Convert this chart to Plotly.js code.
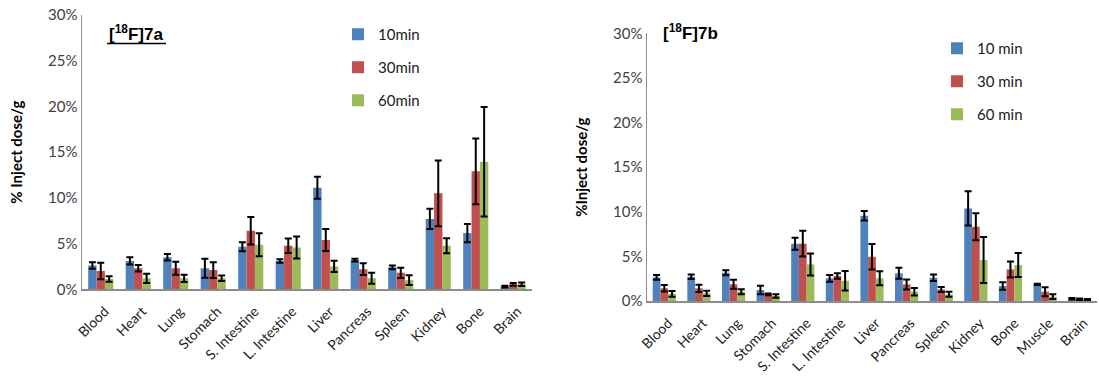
<!DOCTYPE html>
<html>
<head>
<meta charset="utf-8">
<script src="https://cdn.plot.ly/plotly-3.0.1.min.js"></script>
<style>html,body{margin:0;padding:0;background:#fff;}#chart{width:1099px;height:384px;}</style>
</head>
<body>
<div id="chart"></div>
<script>
// ---- Data: [18F]7a ----
const categoriesA = ['Blood','Heart','Lung','Stomach','S. Intestine','L. Intestine','Liver','Pancreas','Spleen','Kidney','Bone','Brain'];
const a10 = [2.6, 3.1, 3.5, 2.3, 4.65, 3.1, 11.1, 3.2, 2.4, 7.7, 6.15, 0.3];
const a10err = [0.35, 0.4, 0.35, 1.05, 0.5, 0.2, 1.2, 0.15, 0.2, 1.1, 1.0, 0.1];
const a30 = [2.0, 2.3, 2.3, 2.1, 6.4, 4.76, 5.4, 2.2, 1.8, 10.5, 12.9, 0.55];
const a30err = [0.9, 0.35, 0.7, 0.87, 1.5, 0.8, 1.2, 0.64, 0.57, 3.6, 3.6, 0.15];
const a60 = [1.13, 1.2, 1.2, 1.2, 4.87, 4.57, 2.5, 1.2, 1.0, 4.76, 13.95, 0.55];
const a60err = [0.3, 0.5, 0.4, 0.3, 1.26, 1.2, 0.62, 0.6, 0.53, 0.82, 6.0, 0.2];
const legendA = ['10min', '30min', '60min'];

// ---- Data: [18F]7b ----
const categoriesB = ['Blood','Heart','Lung','Stomach','S. Intestine','L. Intestine','Liver','Pancreas','Spleen','Kidney','Bone','Muscle','Brain'];
const b10 = [2.65, 2.72, 3.17, 1.23, 6.42, 2.54, 9.55, 3.1, 2.6, 10.38, 1.68, 1.86, 0.25];
const b10err = [0.27, 0.25, 0.28, 0.47, 0.67, 0.37, 0.54, 0.62, 0.37, 1.92, 0.41, 0.07, 0.08];
const b30 = [1.42, 1.42, 1.87, 0.75, 6.42, 2.8, 4.96, 1.86, 1.3, 8.32, 3.54, 1.04, 0.2];
const b30err = [0.36, 0.4, 0.5, 0.1, 1.44, 0.3, 1.42, 0.56, 0.28, 1.5, 0.9, 0.5, 0.08];
const b60 = [0.8, 0.86, 1.04, 0.56, 4.1, 2.27, 2.54, 1.04, 0.75, 4.59, 4.03, 0.49, 0.15];
const b60err = [0.33, 0.3, 0.28, 0.19, 1.23, 1.08, 0.78, 0.43, 0.28, 2.58, 1.34, 0.26, 0.08];
const legendB = ['10 min', '30 min', '60 min'];

const yTicks = [0, 5, 10, 15, 20, 25, 30];
const yTickText = ['0%', '5%', '10%', '15%', '20%', '25%', '30%'];
const colors = ['#4F81BD', '#C0504D', '#9BBB59'];

function bar(x, y, err, name, color, xa, ya, leg, grp) {
  return {
    type: 'bar', x: x, y: y, name: name,
    marker: {color: color},
    error_y: {type: 'data', array: err, visible: true, color: '#000', thickness: 2, width: 3.5},
    xaxis: xa, yaxis: ya, legend: leg, legendgroup: grp,
    hoverinfo: 'x+y+name'
  };
}

const traces = [
  bar(categoriesA, a10, a10err, legendA[0], colors[0], 'x', 'y', 'legend', 'a1'),
  bar(categoriesA, a30, a30err, legendA[1], colors[1], 'x', 'y', 'legend', 'a2'),
  bar(categoriesA, a60, a60err, legendA[2], colors[2], 'x', 'y', 'legend', 'a3'),
  bar(categoriesB, b10, b10err, legendB[0], colors[0], 'x2', 'y2', 'legend2', 'b1'),
  bar(categoriesB, b30, b30err, legendB[1], colors[1], 'x2', 'y2', 'legend2', 'b2'),
  bar(categoriesB, b60, b60err, legendB[2], colors[2], 'x2', 'y2', 'legend2', 'b3')
];

const W = 1099, H = 384;
const FF = 'Lato, "Open Sans", sans-serif';
const axLine = '#8c8c8c';

function xAxis(dom, anchor, n) {
  return {type: 'category', domain: dom, anchor: anchor, range: [-0.5, n - 0.5],
    showline: true, linecolor: axLine, linewidth: 1.5,
    showgrid: false, zeroline: false, ticks: '', tickangle: -45,
    ticklabelstandoff: 7, ticklabelshift: 4,
    tickfont: {family: FF, size: 14, color: '#202020'},
    automargin: false, fixedrange: true};
}
function yAxis(dom, anchor, title) {
  return {type: 'linear', domain: dom, anchor: anchor, range: [0, 30],
    tickmode: 'array', tickvals: yTicks, ticktext: yTickText,
    showline: true, linecolor: axLine, linewidth: 1.5, showgrid: false, zeroline: false,
    ticks: '', tickfont: {family: FF, size: 15, color: '#404040'}, automargin: false, fixedrange: true,
    title: {text: title, font: {family: FF, size: 15, color: '#000', weight: 'bold'}, standoff: 22}};
}

const layout = {
  width: W, height: H,
  margin: {l: 0, r: 0, t: 0, b: 0},
  paper_bgcolor: '#fff', plot_bgcolor: '#fff',
  barmode: 'group', bargap: 0.33, bargroupgap: 0,
  xaxis: xAxis([82 / W, 532 / W], 'y', categoriesA.length),
  yaxis: yAxis([1 - 289.3 / H, 1 - 15 / H], 'x', '% Inject dose/g'),
  xaxis2: xAxis([647 / W, 1097 / W], 'y2', categoriesB.length),
  yaxis2: yAxis([1 - 301 / H, 1 - 33.3 / H], 'x2', '%Inject dose/g'),
  showlegend: true,
  legend: {x: 338 / W, y: 1 - 18 / H, xanchor: 'left', yanchor: 'top', bgcolor: 'rgba(0,0,0,0)',
    traceorder: 'grouped', tracegroupgap: 10.5,
    font: {family: FF, size: 15, color: '#202020'}},
  legend2: {x: 937 / W, y: 1 - 32 / H, xanchor: 'left', yanchor: 'top', bgcolor: 'rgba(0,0,0,0)',
    traceorder: 'grouped', tracegroupgap: 10.5,
    font: {family: FF, size: 15, color: '#202020'}},
  shapes: [
    {type: 'line', xref: 'paper', yref: 'paper', x0: 107 / W, x1: 166 / W, y0: 1 - 43.5 / H, y1: 1 - 43.5 / H,
     line: {color: '#000', width: 1.5}}
  ],
  annotations: [
    {text: '[<sup>18</sup>F]7a', xref: 'paper', yref: 'paper', x: 107 / W, y: 1 - 33 / H,
     xanchor: 'left', yanchor: 'middle', showarrow: false,
     font: {family: '"Liberation Sans", Arial, sans-serif', size: 17, color: '#000', weight: 'bold'}},
    {text: '[<sup>18</sup>F]7b', xref: 'paper', yref: 'paper', x: 661 / W, y: 1 - 32 / H,
     xanchor: 'left', yanchor: 'middle', showarrow: false,
     font: {family: '"Liberation Sans", Arial, sans-serif', size: 17, color: '#000', weight: 'bold'}}
  ]
};

// Rewrite "translate(tx[,ty]) rotate(a[,cx,cy])" on tick labels as one rotate about a shifted centre
var RT = /translate\(\s*([-\d.e]+)(?:[\s,]+([-\d.e]+))?\s*\)/;
var RR = /rotate\(\s*([-\d.e]+)(?:[\s,]+([-\d.e]+)[\s,]+([-\d.e]+))?\s*\)/;
function fixTicks() {
  document.querySelectorAll('.xtick text, .x2tick text').forEach(function (t) {
    var tf = t.getAttribute('transform') || '';
    var mt = tf.match(RT), mr = tf.match(RR);
    if (!mt || !mr) return;
    var tx = +mt[1], ty = mt[2] !== undefined ? +mt[2] : 0;
    var a = +mr[1], cx = mr[2] !== undefined ? +mr[2] : 0, cy = mr[3] !== undefined ? +mr[3] : 0;
    var shift = function (el) {
      el.setAttribute('x', (+(el.getAttribute('x') || 0)) + tx);
      el.setAttribute('y', (+(el.getAttribute('y') || 0)) + ty);
    };
    shift(t);
    t.querySelectorAll('tspan.line').forEach(shift);
    t.setAttribute('transform', 'rotate(' + a + ',' + (cx + tx) + ',' + (cy + ty) + ')');
  });
}

var gdEl = document.getElementById('chart');
var p = Plotly.newPlot(gdEl, traces, layout, {displayModeBar: false, staticPlot: true});
fixTicks();
if (gdEl.on) gdEl.on('plotly_afterplot', fixTicks);
p.then(function () {
  fixTicks();
  new MutationObserver(fixTicks).observe(gdEl, {subtree: true, childList: true, attributes: true, attributeFilter: ['transform']});
});
[0, 20, 100, 300, 700, 1500].forEach(function (ms) { setTimeout(fixTicks, ms); });
</script>
</body>
</html>
